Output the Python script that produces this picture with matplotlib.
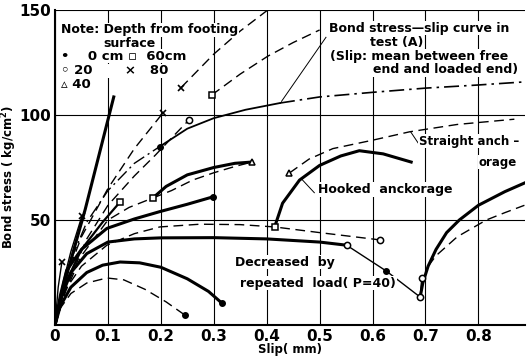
import numpy as np
import matplotlib.pyplot as plt

plt.rcParams['font.family'] = ['DejaVu Sans']
plt.rcParams['font.weight'] = 'bold'

# 曲线数据 (slip mm, bond stress kg/cm2)
steep_x = [0, 0.02, 0.057, 0.111]
steep_y = [0, 22, 55, 108.6]

x80a_x = [0, 0.006, 0.013]
x80a_y = [0, 18, 30]
x80b_x = [0, 0.015, 0.03, 0.051]
x80b_y = [0, 20, 35, 52]
x80c_x = [0, 0.02, 0.05, 0.1, 0.15, 0.204]
x80c_y = [0, 22, 42, 65, 84, 101]
x80d_x = [0.238, 0.3, 0.35, 0.402]
x80d_y = [113, 129, 140, 150]

sq60_x = [0.296, 0.35, 0.402, 0.45, 0.5]
sq60_y = [109.5, 119.5, 128, 134.5, 140.5]

testA1_x = [0, 0.01, 0.03, 0.06, 0.1, 0.15, 0.198]
testA1_y = [0, 14, 31, 49, 64, 77, 85]
testA2_x = [0.198, 0.25, 0.3, 0.36, 0.425]
testA2_y = [85, 93.5, 98.5, 102.5, 105.7]
testA3_x = [0.425, 0.5, 0.6, 0.7, 0.8, 0.883]
testA3_y = [105.7, 108.6, 110.8, 112.8, 114.3, 115.7]

c20_x = [0, 0.02, 0.06, 0.1, 0.15, 0.19, 0.22, 0.253]
c20_y = [0, 17, 41, 57, 71, 81, 89, 97.6]

sqA_x = [0, 0.02, 0.05, 0.09, 0.123]
sqA_y = [0, 20, 36, 49, 58.6]
sqB_x = [0, 0.02, 0.05, 0.1, 0.14, 0.185]
sqB_y = [0, 16, 33, 50, 56, 60.5]
tri_thick_x = [0.185, 0.21, 0.25, 0.3, 0.34, 0.372]
tri_thick_y = [60.5, 66, 71.5, 75, 77, 77.6]
tri_dash_x = [0.185, 0.22, 0.26, 0.3, 0.34, 0.372]
tri_dash_y = [60.5, 64, 69, 72.5, 75.5, 77.6]

dot61_x = [0, 0.01, 0.022, 0.05, 0.098, 0.15, 0.198, 0.25, 0.298]
dot61_y = [0, 14, 26, 36, 46, 50.5, 54, 57.5, 61]

mid_dash_x = [0, 0.02, 0.05, 0.098, 0.15, 0.198, 0.274, 0.35, 0.415, 0.5, 0.615]
mid_dash_y = [0, 17, 28, 38, 43.5, 46.7, 48, 47.8, 46.7, 44, 40.5]

rep_x = [0, 0.01, 0.03, 0.06, 0.1, 0.15, 0.2, 0.3, 0.4, 0.5, 0.551]
rep_y = [0, 12, 25, 34, 39.5, 41, 41.5, 41.6, 41, 39.5, 38]
drop_x = [0.551, 0.626, 0.69, 0.693]
drop_y = [38, 25.7, 13.3, 22.4]
rise_x = [0.69, 0.695, 0.705, 0.72, 0.74, 0.764, 0.8, 0.85, 0.887]
rise_y = [13.3, 20, 28, 36, 44, 50, 57, 63.5, 67.6]
rise_dash_x = [0.705, 0.72, 0.76, 0.815, 0.85, 0.887]
rise_dash_y = [28, 33, 42, 50, 53.5, 57]

low1_x = [0, 0.01, 0.03, 0.06, 0.09, 0.123, 0.16, 0.2, 0.25, 0.29, 0.315]
low1_y = [0, 9, 18, 25, 28.5, 30, 29.6, 27.5, 22, 16, 10.5]
low2_x = [0, 0.01, 0.03, 0.06, 0.098, 0.13, 0.17, 0.21, 0.245]
low2_y = [0, 8, 15, 20, 22.4, 21.5, 17, 11, 4.8]

hook_x = [0.415, 0.43, 0.462, 0.5, 0.54, 0.575, 0.62, 0.673]
hook_y = [46.7, 58, 69, 76, 80.5, 83, 81.5, 77.6]
straight_x = [0.443, 0.48, 0.525, 0.6, 0.67, 0.76, 0.868]
straight_y = [72.4, 79, 84, 88, 92, 95.5, 98]

dots_x = [0.298, 0.315, 0.245, 0.626, 0.198]
dots_y = [61, 10.5, 4.8, 25.7, 85]
circ_x = [0.253, 0.551, 0.615, 0.69, 0.693]
circ_y = [97.6, 38, 40.5, 13.3, 22.4]
sq_x = [0.123, 0.185, 0.296, 0.415]
sq_y = [58.6, 60.5, 109.5, 46.7]
tri_x = [0.372, 0.443]
tri_y = [77.6, 72.4]
cross_x = [0.013, 0.051, 0.204, 0.238]
cross_y = [30, 52, 101, 113]

xticks = [0, 0.1, 0.2, 0.3, 0.4, 0.5, 0.6, 0.7, 0.8]
xlabels = ['0', '0.1', '0.2', '0.3', '0.4', '0.5', '0.6', '0.7', '0.8']
yticks = [50, 100, 150]

fig = plt.figure(figsize=(5.31, 3.6), dpi=100)
ax = fig.add_axes([0.1036, 0.0972, 0.885, 0.875])

DASH = (0, (7, 4))
DASHDOT = (0, (9, 3, 1.5, 3))
THICK = 2.2
THIN = 1.0

ax.plot(steep_x, steep_y, 'k-', lw=THICK)
ax.plot(x80a_x, x80a_y, 'k-', lw=THIN)
ax.plot(x80b_x, x80b_y, 'k-', lw=THIN)
ax.plot(x80c_x, x80c_y, 'k', lw=THIN, ls=DASH)
ax.plot(x80d_x, x80d_y, 'k', lw=THIN, ls=DASH)
ax.plot(sq60_x, sq60_y, 'k', lw=THIN, ls=DASH)
ax.plot(testA1_x, testA1_y, 'k', lw=THIN, ls=DASHDOT)
ax.plot(testA2_x, testA2_y, 'k-', lw=1.3)
ax.plot(testA3_x, testA3_y, 'k', lw=1.2, ls=DASHDOT)
ax.plot(c20_x, c20_y, 'k', lw=THIN, ls=DASH)
ax.plot(sqA_x, sqA_y, 'k-', lw=1.6)
ax.plot(sqB_x, sqB_y, 'k', lw=THIN, ls=DASH)
ax.plot(tri_thick_x, tri_thick_y, 'k-', lw=THICK)
ax.plot(tri_dash_x, tri_dash_y, 'k', lw=THIN, ls=DASH)
ax.plot(dot61_x, dot61_y, 'k-', lw=THICK)
ax.plot(mid_dash_x, mid_dash_y, 'k', lw=THIN, ls=DASH)
ax.plot(rep_x, rep_y, 'k-', lw=THICK)
ax.plot(drop_x, drop_y, 'k-', lw=THIN)
ax.plot(rise_x, rise_y, 'k-', lw=THICK)
ax.plot(rise_dash_x, rise_dash_y, 'k', lw=THIN, ls=DASH)
ax.plot(low1_x, low1_y, 'k-', lw=THICK)
ax.plot(low2_x, low2_y, 'k', lw=THIN, ls=DASH)
ax.plot(hook_x, hook_y, 'k-', lw=THICK)
ax.plot(straight_x, straight_y, 'k', lw=THIN, ls=DASH)

ax.plot(dots_x, dots_y, 'ko', ms=4, ls='none')
ax.plot(circ_x, circ_y, 'o', ms=4.5, mfc='white', mec='k', mew=1.1, ls='none')
ax.plot(sq_x, sq_y, 's', ms=4.5, mfc='white', mec='k', mew=1.1, ls='none')
ax.plot(tri_x, tri_y, '^', ms=5, mfc='white', mec='k', mew=1.1, ls='none')
ax.plot(cross_x, cross_y, 'kx', ms=5, mew=1.2, ls='none')

ax.set_xlim(0, 0.888)
ax.set_ylim(0, 150)
ax.set_xticks(xticks)
ax.set_xticklabels(xlabels, fontsize=11, fontweight='bold')
ax.set_yticks(yticks)
ax.set_yticklabels([str(v) for v in yticks], fontsize=11, fontweight='bold')
ax.tick_params(length=0, pad=3)
ax.grid(True, color='k', lw=0.8)
for s in ['top', 'right']:
    ax.spines[s].set_visible(False)
ax.spines['left'].set_linewidth(1.5)
ax.spines['bottom'].set_linewidth(1.5)
ax.set_axisbelow(True)

ax.set_ylabel('Bond stress ( kg/cm$^2$)', fontsize=8.5, fontweight='bold')
ax.yaxis.set_label_coords(-0.077, 0.47)
ax.set_xlabel('Slip( mm)', fontsize=8.5, fontweight='bold')
ax.xaxis.set_label_coords(0.5, -0.058)

# 图例说明
fs = 9
bg = dict(facecolor='white', edgecolor='none', pad=0.5)
ax.text(0.012, 140.5, 'Note: Depth from footing', fontsize=fs, va='center', bbox=bg)
ax.text(0.14, 134, 'surface', fontsize=fs, va='center', ha='center', bbox=bg)
ax.text(0.012, 128, '\u2022    0 cm \u25ab  60cm', fontsize=9.5, va='center', bbox=bg)
ax.text(0.012, 121, '\u25e6 20       \u00d7   80', fontsize=9.5, va='center', bbox=bg)
ax.text(0.012, 114.5, '\u25b5 40', fontsize=9.5, va='center', bbox=bg)

ax.text(0.518, 141.4, 'Bond stress\u2014slip curve in', fontsize=fs, va='center', bbox=bg)
ax.text(0.645, 134.5, 'test (A)', fontsize=fs, va='center', ha='center', bbox=bg)
ax.text(0.52, 128, '(Slip: mean between free', fontsize=fs, va='center', bbox=bg)
ax.text(0.6, 121.6, 'end and loaded end)', fontsize=fs, va='center', bbox=bg)
ax.plot([0.512, 0.428], [137, 106.5], 'k-', lw=0.7)

ax.text(0.688, 87.5, 'Straight anch \u2013', fontsize=8.5, va='center', bbox=bg)
ax.text(0.8, 77.5, 'orage', fontsize=8.5, va='center', bbox=bg)
ax.plot([0.672, 0.688], [92, 86], 'k-', lw=0.7)

ax.text(0.497, 64.5, 'Hooked  anckorage', fontsize=fs, va='center', bbox=bg)
ax.plot([0.466, 0.49], [69.5, 63], 'k-', lw=0.7)

ax.text(0.34, 30, 'Decreased  by', fontsize=fs, va='center', bbox=bg)
ax.text(0.35, 20, 'repeated  load( P=40)', fontsize=fs, va='center', bbox=bg)

fig.savefig('out.png', dpi=100)
